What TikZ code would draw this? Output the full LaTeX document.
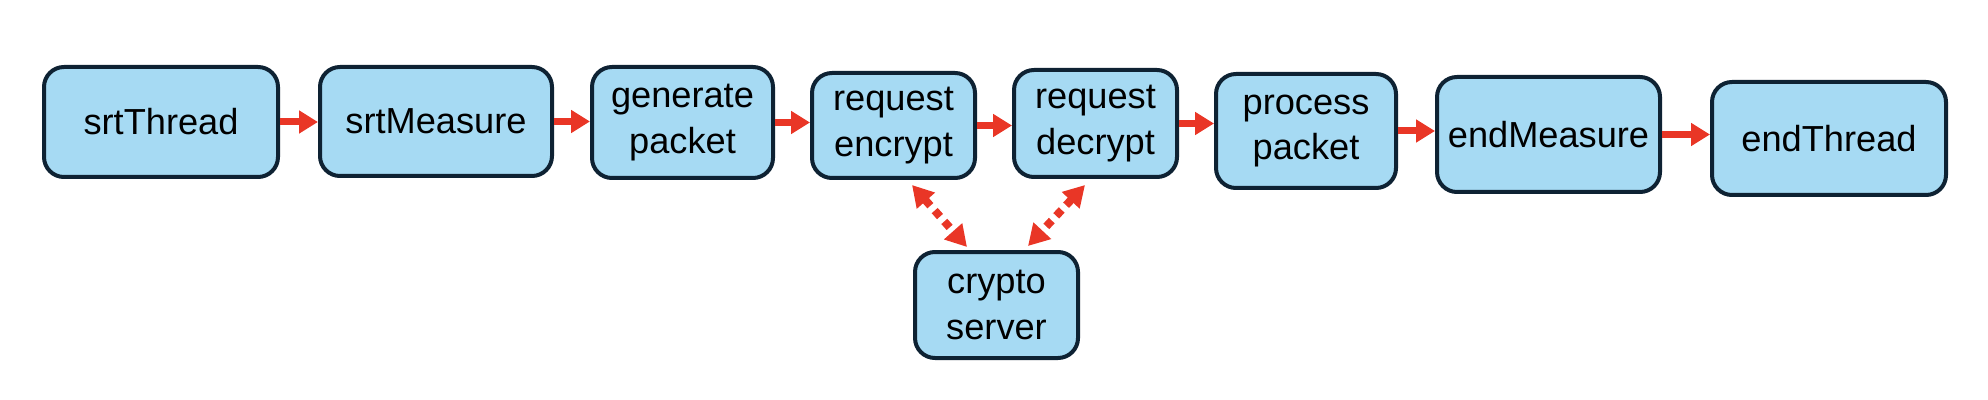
\documentclass[tikz,border=0pt]{standalone}
\usepackage{fontspec}
\setmainfont{Liberation Sans}
\usetikzlibrary{arrows.meta}
\definecolor{boxblue}{RGB}{166,218,243}
\definecolor{boxedge}{RGB}{14,34,51}
\definecolor{arrred}{RGB}{233,54,38}

\begin{document}
\begin{tikzpicture}[
  stage/.style={rectangle, rounded corners=0.4cm, draw=boxedge, fill=boxblue, line width=0.08cm,
    align=center, inner sep=0pt, font=\fontsize{20.6}{26}\selectfont},
  flow/.style={-{Triangle[width=0.44cm,length=0.38cm]}, arrred, line width=0.14cm},
  talk/.style={{Triangle[width=0.46cm,length=0.42cm]}-{Triangle[width=0.46cm,length=0.42cm]}, arrred,
    line width=0.16cm, dash pattern=on 0.16cm off 0.13cm}]
\useasboundingbox (0,0) rectangle (39.76,-8);

\node[stage, minimum width=4.68cm, minimum height=2.20cm] (st) at (3.22,-2.44) {srtThread};
\node[stage, minimum width=4.64cm, minimum height=2.18cm] (sm) at (8.72,-2.43) {srtMeasure};
\node[stage, minimum width=3.62cm, minimum height=2.22cm] (gp) at (13.65,-2.45) {generate\\packet};
\node[stage, minimum width=3.26cm, minimum height=2.10cm] (enc) at (17.87,-2.51) {request\\encrypt};
\node[stage, minimum width=3.26cm, minimum height=2.14cm] (dec) at (21.91,-2.47) {request\\decrypt};
\node[stage, minimum width=3.60cm, minimum height=2.28cm] (pp) at (26.12,-2.62) {process\\packet};
\node[stage, minimum width=4.46cm, minimum height=2.30cm] (em) at (30.97,-2.69) {endMeasure};
\node[stage, minimum width=4.68cm, minimum height=2.26cm] (et) at (36.58,-2.77) {endThread};
\node[stage, minimum width=3.26cm, minimum height=2.12cm] (cs) at (19.93,-6.10) {crypto\\server};

\draw[flow] (st.east) -- (st.east -| sm.west);
\draw[flow] (sm.east) -- (sm.east -| gp.west);
\draw[flow] (gp.east) -- (gp.east -| enc.west);
\draw[flow] (enc.east) -- (enc.east -| dec.west);
\draw[flow] (dec.east) -- (dec.east -| pp.west);
\draw[flow] (pp.east) -- (pp.east -| em.west);
\draw[flow] (em.east) -- (em.east -| et.west);

\draw[talk] ([xshift=0.37cm,yshift=-0.1cm]enc.south) -- ([xshift=-0.59cm,yshift=0.06cm]cs.north);
\draw[talk] ([xshift=-0.21cm,yshift=-0.12cm]dec.south) -- ([xshift=0.63cm,yshift=0.08cm]cs.north);
\end{tikzpicture}
\end{document}
